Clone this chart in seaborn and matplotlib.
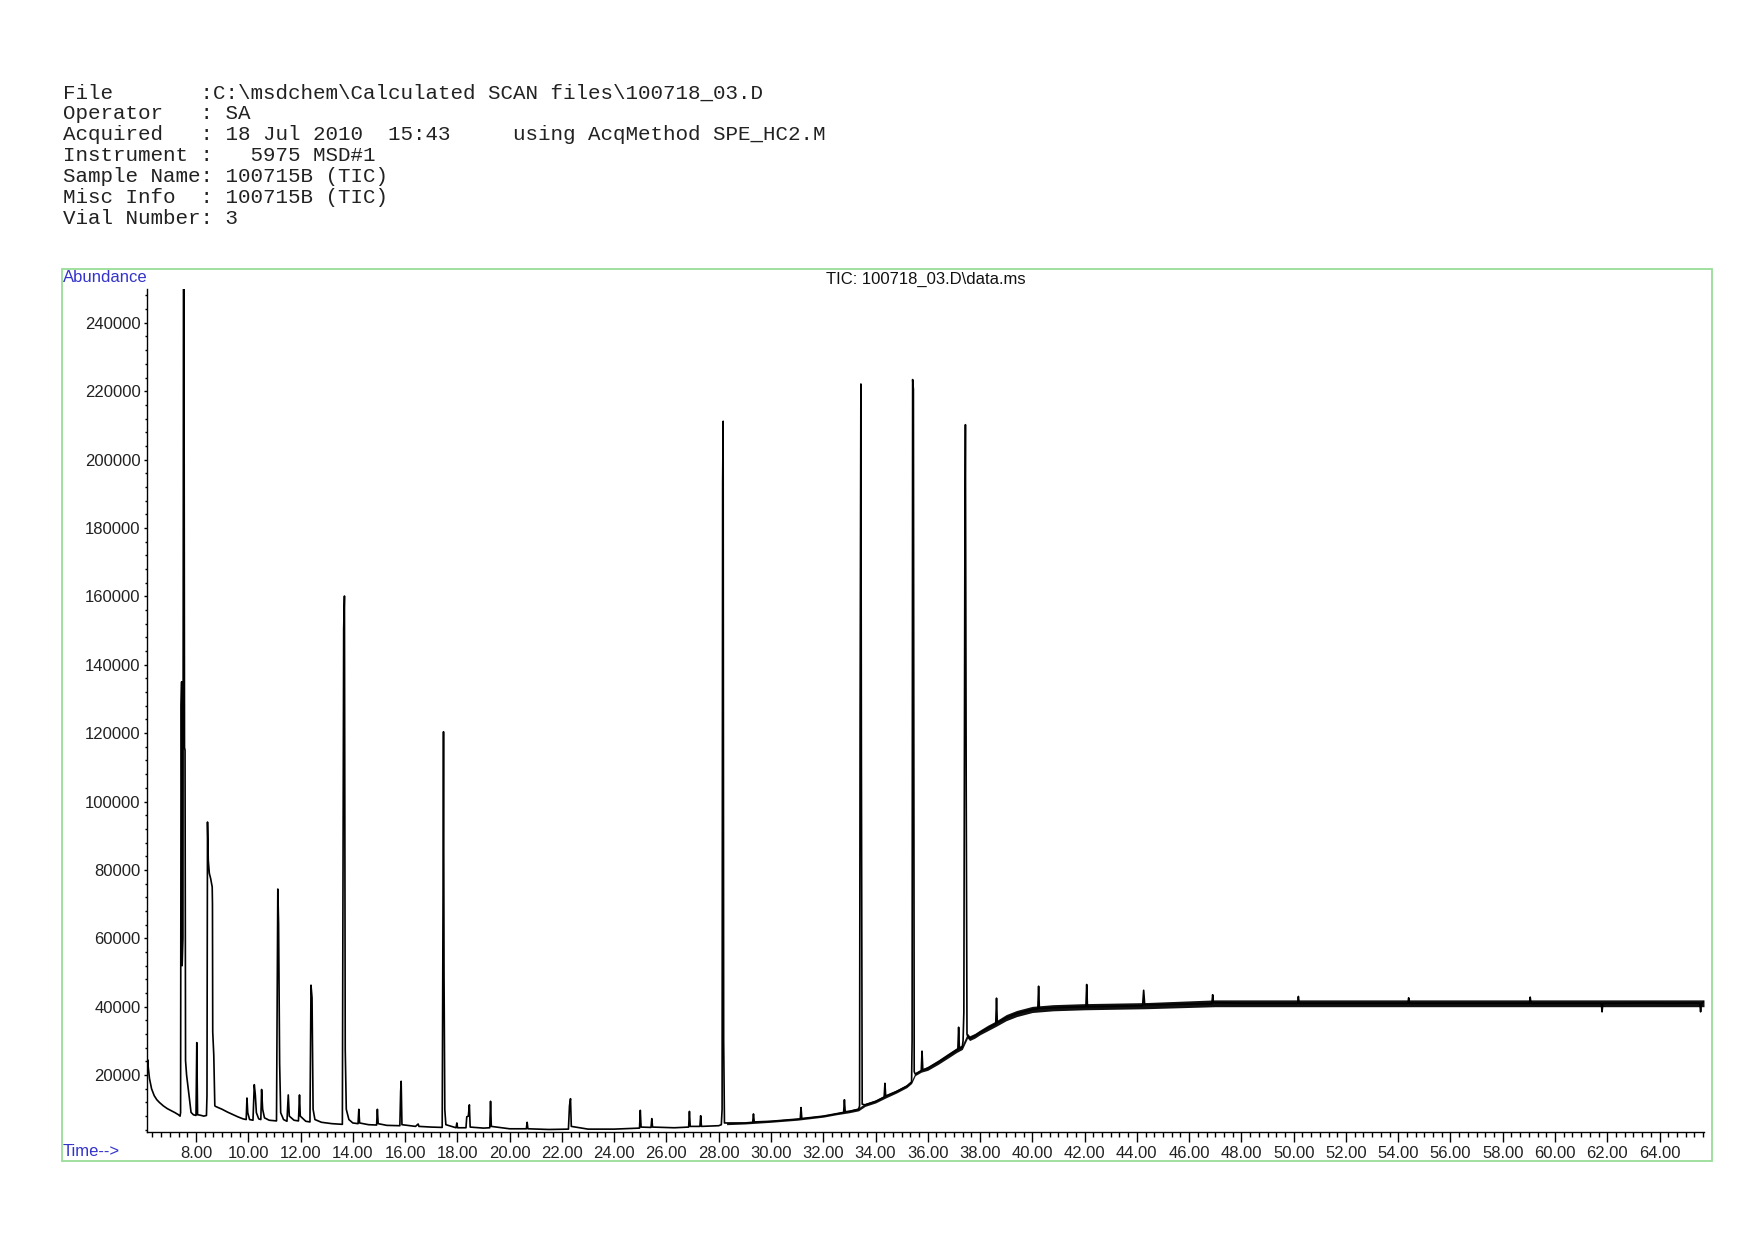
import numpy as np
import pandas as pd
import matplotlib.pyplot as plt
import matplotlib.ticker as mticker
from matplotlib.patches import Rectangle
import seaborn as sns

# header block of the report
header_lines = [
    "File       :C:\\msdchem\\Calculated SCAN files\\100718_03.D",
    "Operator   : SA",
    "Acquired   : 18 Jul 2010  15:43     using AcqMethod SPE_HC2.M",
    "Instrument :   5975 MSD#1",
    "Sample Name: 100715B (TIC)",
    "Misc Info  : 100715B (TIC)",
    "Vial Number: 3",
]
plot_title = "TIC: 100718_03.D\\data.ms"

# TIC trace (time in min, abundance)
time_min = [
    6.13, 6.15, 6.17, 6.22, 6.30, 6.40, 6.50, 6.60, 6.75, 6.90, 7.05, 7.20, 7.33, 7.39,
    7.41, 7.43, 7.45, 7.47, 7.50, 7.52, 7.54, 7.56, 7.58, 7.60, 7.64, 7.68, 7.75, 7.81,
    7.90, 8.00, 8.03, 8.06, 8.15, 8.30, 8.40, 8.42, 8.44, 8.47, 8.51, 8.56, 8.62, 8.63,
    8.64, 8.68, 8.72, 8.76, 8.85, 9.00, 9.20, 9.40, 9.60, 9.80, 9.92, 9.95, 9.98, 10.05,
    10.18, 10.23, 10.27, 10.31, 10.40, 10.48, 10.51, 10.55, 10.62, 10.80, 11.08, 11.13,
    11.16, 11.20, 11.24, 11.35, 11.48, 11.53, 11.57, 11.75, 11.92, 11.96, 11.99, 12.20,
    12.36, 12.40, 12.44, 12.48, 12.55, 12.80, 13.20, 13.60, 13.65, 13.68, 13.71, 13.75,
    13.85, 14.00, 14.20, 14.23, 14.26, 14.60, 14.91, 14.94, 14.97, 15.30, 15.80, 15.83,
    15.85, 15.88, 16.40, 16.50, 16.53, 17.00, 17.42, 17.45, 17.47, 17.49, 17.52, 17.56,
    17.95, 17.98, 18.01, 18.33, 18.36, 18.42, 18.46, 18.49, 19.00, 19.24, 19.27, 19.30,
    20.00, 20.64, 20.67, 20.70, 21.50, 22.25, 22.29, 22.33, 22.36, 23.00, 24.00, 24.97,
    25.00, 25.03, 25.41, 25.44, 25.47, 26.30, 26.85, 26.88, 26.91, 27.28, 27.31, 27.34,
    28.00, 28.10, 28.13, 28.15, 28.17, 28.19, 28.22, 29.00, 29.30, 29.33, 29.36, 30.00,
    31.00, 31.12, 31.15, 31.18, 32.00, 32.50, 32.78, 32.81, 32.84, 33.00, 33.35, 33.39,
    33.41, 33.44, 33.46, 33.49, 33.60, 34.00, 34.33, 34.36, 34.39, 34.80, 35.20, 35.38,
    35.40, 35.42, 35.45, 35.48, 35.52, 35.75, 35.78, 35.81, 36.00, 36.40, 36.80, 37.10,
    37.15, 37.18, 37.21, 37.32, 37.35, 37.38, 37.42, 37.44, 37.47, 37.50, 37.52, 37.60,
    37.80, 38.00, 38.30, 38.60, 38.63, 38.66, 39.00, 39.40, 40.00, 40.21, 40.24, 40.27,
    40.80, 41.50, 42.05, 42.08, 42.11, 43.00, 44.22, 44.26, 44.30, 45.00, 46.00, 46.87,
    46.90, 46.93, 48.00, 49.00, 50.15, 50.18, 50.21, 51.50, 52.50, 54.37, 54.40, 54.43,
    56.00, 57.00, 59.02, 59.05, 59.08, 60.00, 61.00, 61.77, 61.80, 61.83, 62.50, 63.50,
    64.50, 65.40, 65.54, 65.57, 65.60, 65.70,
]
abundance = [
    22000, 24500, 22500, 19000, 16000, 14000, 12800, 12000, 11000, 10200, 9600, 9000, 8400, 8000,
    9000, 128000, 135000, 52000, 60000, 250000, 250000, 115800, 115000, 24200, 20000, 17500, 13000, 9100,
    8400, 8200, 29500, 8400, 8300, 8000, 8200, 14000, 94000, 82800, 79000, 77500, 75000, 70000,
    32600, 25900, 11000, 10800, 10500, 10000, 9200, 8500, 7800, 7200, 7000, 13300, 9000, 7000,
    6800, 17200, 14200, 9000, 7200, 7000, 15800, 10000, 7500, 6800, 6600, 74400,
    64400, 23400, 9000, 7000, 6500, 14200, 8000, 6800, 6600, 14200, 8000, 6500,
    6300, 46300, 42600, 10000, 7000, 6200, 5800, 5600, 150600, 160100, 27500, 10000,
    7000, 6000, 5800, 10000, 6000, 5500, 5400, 10000, 5800, 5300, 5200, 15200,
    18200, 5500, 5000, 5700, 5000, 4800, 4700, 66500, 120400, 49500, 9900, 5500,
    4600, 6000, 4600, 4600, 7800, 8000, 11300, 4800, 4500, 4600, 12350, 5000,
    4300, 4300, 6200, 4300, 4100, 4200, 11000, 13100, 5000, 4200, 4200, 4500,
    9700, 4800, 4700, 7270, 4800, 4600, 4800, 9390, 5000, 5000, 8120, 5000,
    5200, 5500, 10000, 193000, 211200, 30000, 6000, 6000, 6200, 8650, 6300, 6500,
    7100, 7200, 10500, 7300, 8000, 8700, 9100, 12800, 9300, 9400, 10000, 11000,
    123900, 222100, 111000, 11500, 11300, 12300, 13600, 17600, 13900, 15200, 16800, 18000,
    30000, 223400, 220500, 21000, 20300, 21300, 27000, 21500, 22000, 23800, 25800, 27300,
    27500, 34000, 27800, 28200, 30000, 38400, 178700, 210200, 104100, 32000, 31500, 30800,
    31500, 32500, 33800, 35000, 42500, 35300, 36800, 38000, 39200, 39400, 46000, 39500,
    39700, 39900, 40000, 46500, 40000, 40100, 40300, 44800, 40600, 40600, 40800, 40900,
    43500, 41200, 41000, 41000, 41000, 43000, 41000, 41000, 41000, 41000, 42600, 41000,
    41000, 41000, 41000, 42800, 41000, 41000, 41000, 41000, 38500, 41000, 41000, 41100,
    41000, 41100, 41000, 38500, 41000, 41500,
]

# thickness of the noisy baseline (lower / upper edge of the band)
band_time = [28.3, 29.0, 30.0, 31.0, 32.0, 32.5, 33.0, 33.35, 33.6, 34.0, 34.4, 34.8,
             35.2, 35.38, 35.52, 35.75, 36.0, 36.4, 36.8, 37.1, 37.32, 37.52, 37.6, 37.8,
             38.0, 38.3, 38.6, 39.0, 39.4, 40.0, 40.8, 42.0, 44.3, 47.0, 65.7]
band_low = [5500, 5700, 6200, 6800, 7700, 8400, 9000, 9550, 10850, 11850, 13350, 14750,
            16350, 17550, 19850, 20850, 21400, 23150, 25100, 26600, 27500, 30800, 30100, 30800,
            31800, 33000, 34200, 35900, 37100, 38300, 38800, 39100, 39400, 40000, 40000]
band_high = [6100, 6300, 6800, 7400, 8300, 9000, 9800, 10450, 11750, 12750, 14250, 15650,
             17250, 18450, 20750, 21750, 22600, 24450, 26500, 28000, 28900, 32200, 31500, 32200,
             33200, 34600, 35800, 37700, 38900, 40100, 40600, 40900, 41200, 42000, 42000]

y_ticks = [20000, 40000, 60000, 80000, 100000, 120000, 140000, 160000, 180000,
           200000, 220000, 240000]
x_ticks = [8, 10, 12, 14, 16, 18, 20, 22, 24, 26, 28, 30, 32, 34, 36, 38, 40, 42,
           44, 46, 48, 50, 52, 54, 56, 58, 60, 62, 64]

df = pd.DataFrame({'Time': time_min, 'Abundance': abundance})

sns.set_style("ticks")
plt.rcParams['font.family'] = ['Liberation Sans', 'DejaVu Sans']

W, H = 1754, 1240
fig = plt.figure(figsize=(W / 100, H / 100), dpi=100)
ax = fig.add_axes([147 / W, (H - 1132) / H, (1704 - 147) / W, (1132 - 288.6) / H])

ax.fill_between(band_time, band_low, band_high, color='#111111', linewidth=0)
sns.lineplot(data=df, x='Time', y='Abundance', color='black', linewidth=1.2,
             estimator=None, sort=False, ax=ax)

ax.set_xlim(6.125, 65.7)
ax.set_ylim(3360, 250000)
ax.set_xticks(x_ticks)
ax.set_xticklabels([f"{t:.2f}" for t in x_ticks])
ax.set_yticks(y_ticks)
ax.set_yticklabels([str(v) for v in y_ticks])
ax.xaxis.set_minor_locator(mticker.MultipleLocator(1 / 3))
ax.yaxis.set_minor_locator(mticker.MultipleLocator(4000))
ax.tick_params(axis='x', which='major', length=7, width=1, pad=3, labelsize=12, colors='black',
               labelcolor='#222222')
ax.tick_params(axis='x', which='minor', length=3.3, width=1, colors='black')
ax.tick_params(axis='y', which='major', length=2.5, width=1, pad=2, labelsize=12, colors='black',
               labelcolor='#222222')
ax.tick_params(axis='y', which='minor', length=1.8, width=1, colors='black')
ax.set_xlabel('')
ax.set_ylabel('')
for side in ['top', 'right']:
    ax.spines[side].set_visible(False)
for side in ['left', 'bottom']:
    ax.spines[side].set_color('black')
    ax.spines[side].set_linewidth(1)
ax.set_facecolor('white')

# green frame around the plot area
fig.patches.append(Rectangle((62 / W, 1 - 1161 / H), (1712 - 62) / W, (1161 - 269) / H,
                             transform=fig.transFigure, fill=False, edgecolor='#99dd99',
                             linewidth=1.3))

for i, line in enumerate(header_lines):
    fig.text(62.6 / W, 1 - (92.8 + 20.9 * i) / H, line, family='Liberation Mono',
             fontsize=15, va='center', ha='left', color='#222222')

fig.text(63 / W, 1 - 278 / H, 'Abundance', fontsize=12, color='#3333cc', va='center', ha='left')
fig.text(63 / W, 1 - 1152 / H, 'Time-->', fontsize=12, color='#3333cc', va='center', ha='left')
fig.text(925.5 / W, 1 - 279.6 / H, plot_title, fontsize=12, color='#111111',
         va='center', ha='center')

fig.savefig('out.png', dpi=100, facecolor='white')
